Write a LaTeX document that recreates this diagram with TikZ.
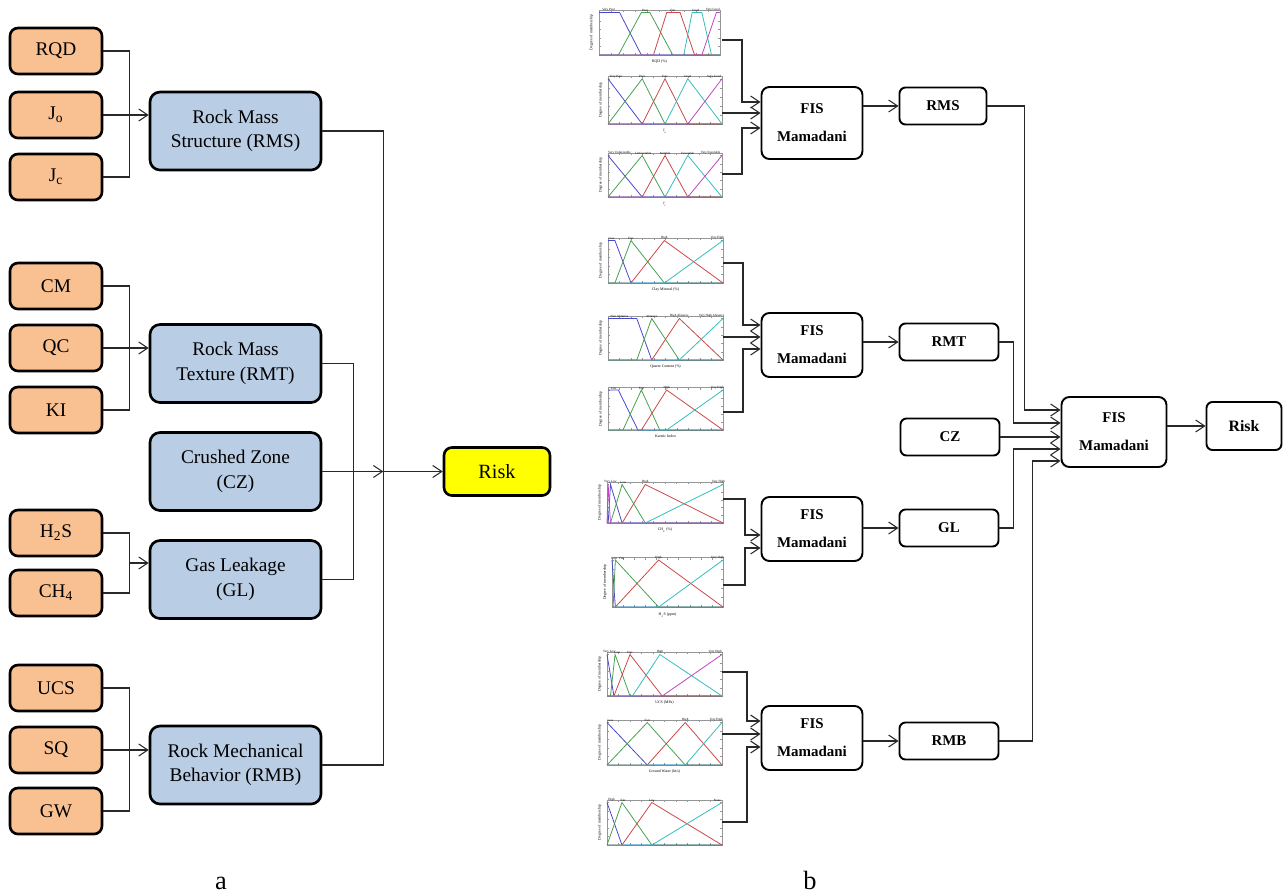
\documentclass[tikz,border=0pt]{standalone}
\usepackage{fontspec}
\setmainfont{Liberation Serif}
\usetikzlibrary{arrows.meta,calc,positioning}
\definecolor{RiskOrange}{RGB}{249,192,146}
\definecolor{RiskBlue}{RGB}{185,205,229}
\definecolor{RiskYellow}{RGB}{255,255,0}
\definecolor{MfBlue}{RGB}{72,72,205}
\definecolor{MfGreen}{RGB}{70,160,80}
\definecolor{MfRed}{RGB}{205,70,70}
\definecolor{MfCyan}{RGB}{50,190,190}
\definecolor{MfMagenta}{RGB}{190,70,190}
\definecolor{AxisGray}{RGB}{150,150,150}
\definecolor{WireGray}{RGB}{40,40,40}

\begin{document}
\begin{tikzpicture}[x=0.2mm,y=-0.2mm,>={Straight Barb[length=1.8mm,width=2.4mm]}]
  \tikzset{parambox/.style={draw,line width=1.5pt,rounded corners=1.6mm,fill=RiskOrange,minimum width=18.4mm,minimum height=9.2mm,font=\fontsize{11}{13}\selectfont},
    groupbox/.style={draw,line width=1.5pt,rounded corners=2mm,fill=RiskBlue,minimum width=34.2mm,minimum height=15.6mm,align=center,font=\fontsize{11}{14}\selectfont},
    fisbox/.style={draw,line width=1.1pt,rounded corners=1.6mm,fill=white,minimum width=20.2mm,minimum height=12.8mm,align=center,font=\fontsize{8.5}{16}\selectfont\bfseries},
    outbox/.style={draw,line width=1.1pt,rounded corners=1.2mm,minimum width=19.8mm,minimum height=7.4mm,font=\fontsize{8.5}{10}\selectfont\bfseries},
    wire/.style={WireGray,line width=0.6pt},
    tinytext/.style={font=\fontsize{2.2}{2.6}\selectfont,inner sep=0.3pt},
    termtext/.style={font=\fontsize{1.8}{2}\selectfont,inner sep=0.3pt,anchor=south},
    axisline/.style={AxisGray,line width=0.2pt},
    mfb/.style={MfBlue,line width=0.45pt},
    mfg/.style={MfGreen,line width=0.45pt},
    mfr/.style={MfRed,line width=0.45pt},
    mfc/.style={MfCyan,line width=0.45pt},
    mfm/.style={MfMagenta,line width=0.45pt},
    pics/mfaxes/.style={code={
        \draw[axisline] (0,0) rectangle (1,1.06);
        \foreach \k in {0,...,10}{\draw[axisline] (\k/10,0) -- (\k/10,0.05) (\k/10,1.06) -- (\k/10,1.01);}
        \foreach \k in {0,...,5}{\draw[axisline] (0,\k/5) -- (0.02,\k/5) (1,\k/5) -- (0.98,\k/5);}
        \node[tinytext,rotate=90,anchor=south] at (-0.04,0.53) {Degree of membership};
        \node[tinytext,anchor=north] at (0.5,-0.1) {#1};
      }}}
  \useasboundingbox (0,0) rectangle (1284,894);

  % part a
  \node[parambox] (rqd) at (56,51) {RQD};
  \node[parambox] (jo) at (56,115) {J\textsubscript{o}};
  \node[parambox] (jc) at (56,177) {J\textsubscript{c}};
  \node[parambox] (cm) at (56,286) {CM};
  \node[parambox] (qc) at (56,348) {QC};
  \node[parambox] (ki) at (56,410) {KI};
  \node[parambox] (hs) at (56,533) {H\textsubscript{2}S};
  \node[parambox] (ch) at (56,593) {CH\textsubscript{4}};
  \node[parambox] (ucs) at (56,688) {UCS};
  \node[parambox] (sq) at (56,750) {SQ};
  \node[parambox] (gw) at (56,811) {GW};

  \node[groupbox] (rms) at (235.5,131) {Rock Mass\\Structure (RMS)};
  \node[groupbox] (rmt) at (235.5,363.5) {Rock Mass\\Texture (RMT)};
  \node[groupbox] (cz) at (235.5,471.5) {Crushed Zone\\(CZ)};
  \node[groupbox] (gl) at (235.5,579.5) {Gas Leakage\\(GL)};
  \node[groupbox] (rmb) at (235.5,765) {Rock Mechanical\\Behavior (RMB)};
  \node[draw,line width=1.5pt,rounded corners=1.6mm,fill=RiskYellow,minimum width=21.2mm,minimum height=9.6mm,font=\fontsize{11.5}{13}\selectfont] (risk) at (497,471.5) {Risk};

  \draw[wire] (rqd.east) -- ++(26,0) |- (jc.east);
  \draw[wire,->] (jo.east) -- (jo.east -| rms.west);
  \draw[wire] (cm.east) -- ++(26,0) |- (ki.east);
  \draw[wire,->] (qc.east) -- (qc.east -| rmt.west);
  \draw[wire] (hs.east) -- ++(26,0) |- (ch.east);
  \coordinate (gljoin) at ($(hs.east)!0.5!(ch.east)+(26,0)$);
  \draw[wire,->] (gljoin) -- (gljoin -| gl.west);
  \draw[wire] (ucs.east) -- ++(26,0) |- (gw.east);
  \draw[wire,->] (sq.east) -- (sq.east -| rmb.west);

  \draw[wire] (rms.east) -- ++(61,0) |- (rmb.east);
  \draw[wire] (rmt.east) -- ++(31,0) |- (gl.east);
  \draw[wire,->] (cz.east) -- ++(61,0) coordinate (czjoin);
  \draw[wire,->] (czjoin) -- (czjoin -| risk.west);

  \node[font=\fontsize{15}{17}\selectfont] (laba) at (221,883) {a};

  % part b: membership functions
  \begin{scope}[shift={(119.8mm,-11mm)},x=24.2mm,y=8.5mm]
    \pic {mfaxes={RQD (\%)}};
    \draw[mfb] (0,1) -- (0.17,1) -- (0.35,0) -- (1,0);
    \draw[mfg] (0,0) -- (0.16,0) -- (0.35,1) -- (0.42,1) -- (0.61,0) -- (1,0);
    \draw[mfr] (0,0) -- (0.45,0) -- (0.56,1) -- (0.67,1) -- (0.79,0) -- (1,0);
    \draw[mfc] (0,0) -- (0.7,0) -- (0.77,1) -- (0.85,1) -- (0.93,0) -- (1,0);
    \draw[mfm] (0,0) -- (0.85,0) -- (0.97,1) -- (1,1);
    \foreach \p/\t in {0.08/Very Poor,0.38/Poor,0.61/Fair,0.8/Good,0.94/Very Good}{\node[termtext] at (\p,1) {\t};}
  \end{scope}
  \begin{scope}[shift={(121.6mm,-24.8mm)},x=22.8mm,y=9.05mm]
    \pic {mfaxes={J\textsubscript{o}}};
    \draw[mfb] (0,1) -- (0.3,0) -- (1,0);
    \draw[mfg] (0,0) -- (0.3,1) -- (0.5,0) -- (1,0);
    \draw[mfr] (0,0) -- (0.3,0) -- (0.5,1) -- (0.7,0) -- (1,0);
    \draw[mfc] (0,0) -- (0.5,0) -- (0.7,1) -- (1,0);
    \draw[mfm] (0,0) -- (0.7,0) -- (1,1);
    \foreach \p/\t in {0.07/Very Poor,0.3/Poor,0.5/Fair,0.7/Good,0.93/Very Good}{\node[termtext] at (\p,1) {\t};}
  \end{scope}
  \begin{scope}[shift={(121.6mm,-39.4mm)},x=22.8mm,y=8.3mm]
    \pic {mfaxes={J\textsubscript{c}}};
    \draw[mfb] (0,1) -- (0.3,0) -- (1,0);
    \draw[mfg] (0,0) -- (0.3,1) -- (0.5,0) -- (1,0);
    \draw[mfr] (0,0) -- (0.3,0) -- (0.5,1) -- (0.7,0) -- (1,0);
    \draw[mfc] (0,0) -- (0.5,0) -- (0.7,1) -- (1,0);
    \draw[mfm] (0,0) -- (0.7,0) -- (1,1);
    \foreach \p/\t in {0.1/Very Unfavorable,0.31/Unfavorable,0.5/Suitable,0.7/Favorable,0.9/Very Favorable}{\node[termtext] at (\p,1) {\t};}
  \end{scope}
  \begin{scope}[shift={(121.6mm,-56.6mm)},x=23mm,y=8.5mm]
    \pic {mfaxes={Clay Mineral (\%)}};
    \draw[mfb] (0,1) -- (0.06,1) -- (0.2,0) -- (1,0);
    \draw[mfg] (0,0) -- (0.06,0) -- (0.2,1) -- (0.49,0) -- (1,0);
    \draw[mfr] (0,0) -- (0.2,0) -- (0.49,1) -- (1,0);
    \draw[mfc] (0,0) -- (0.49,0) -- (1,1);
    \foreach \p/\t in {0.03/Low,0.2/Fair,0.49/High,0.95/Very High}{\node[termtext] at (\p,1) {\t};}
  \end{scope}
  \begin{scope}[shift={(121.6mm,-72mm)},x=23mm,y=8.3mm]
    \pic {mfaxes={Quartz Content (\%)}};
    \draw[mfb] (0,1) -- (0.25,1) -- (0.38,0) -- (1,0);
    \draw[mfg] (0,0) -- (0.25,0) -- (0.38,1) -- (0.62,0) -- (1,0);
    \draw[mfr] (0,0) -- (0.38,0) -- (0.62,1) -- (1,0);
    \draw[mfc] (0,0) -- (0.62,0) -- (1,1);
    \foreach \p/\t in {0.1/Non Abrasive,0.38/Abrasive,0.62/High Abrasive,0.9/Very High Abrasive}{\node[termtext] at (\p,1) {\t};}
  \end{scope}
  \begin{scope}[shift={(121.6mm,-86mm)},x=23mm,y=8mm]
    \pic {mfaxes={Karstic Index}};
    \draw[mfb] (0,1) -- (0.09,1) -- (0.26,0) -- (1,0);
    \draw[mfg] (0,0) -- (0.13,0) -- (0.29,1) -- (0.45,0) -- (1,0);
    \draw[mfr] (0,0) -- (0.29,0) -- (0.51,1) -- (1,0);
    \draw[mfc] (0,0) -- (0.51,0) -- (1,1);
    \foreach \p/\t in {0.05/Low,0.29/Fair,0.51/High,0.95/Very High}{\node[termtext] at (\p,1) {\t};}
  \end{scope}
  \begin{scope}[shift={(121.4mm,-104.6mm)},x=23.2mm,y=7.7mm]
    \pic {mfaxes={CH\textsubscript{4} (\%)}};
    \draw[mfb] (0,0) -- (0.01,0) -- (0.03,1) -- (0.13,0) -- (1,0);
    \draw[mfg] (0,0) -- (0.03,0) -- (0.13,1) -- (0.33,0) -- (1,0);
    \draw[mfr] (0,0) -- (0.13,0) -- (0.33,1) -- (1,0);
    \draw[mfc] (0,0) -- (0.33,0) -- (1,1);
    \draw[mfm] (0,0) -- (0.01,1) -- (0.03,0) -- (1,0);
    \foreach \p/\t in {0.03/Very Low,0.14/Low,0.33/High,0.96/Very High}{\node[termtext] at (\p,1) {\t};}
  \end{scope}
  \begin{scope}[shift={(122.4mm,-121.4mm)},x=22.2mm,y=9.4mm]
    \pic {mfaxes={H\textsubscript{2}S (ppm)}};
    \draw[mfb] (0,1) -- (0.03,0) -- (1,0);
    \draw[mfg] (0,0) -- (0.01,0) -- (0.03,1) -- (0.42,0) -- (1,0);
    \draw[mfr] (0,0) -- (0.03,0) -- (0.42,1) -- (1,0);
    \draw[mfc] (0,0) -- (0.42,0) -- (1,1);
    \foreach \p/\t in {0.02/Low,0.09/Fair,0.42/High,0.95/Very High}{\node[termtext] at (\p,1) {\t};}
  \end{scope}
  \begin{scope}[shift={(121.4mm,-139.2mm)},x=23mm,y=8.3mm]
    \pic {mfaxes={UCS (MPa)}};
    \draw[mfb] (0,1) -- (0.06,0) -- (1,0);
    \draw[mfg] (0,0) -- (0.03,0) -- (0.07,1) -- (0.2,0) -- (1,0);
    \draw[mfr] (0,0) -- (0.06,0) -- (0.2,1) -- (0.48,0) -- (1,0);
    \draw[mfc] (0,0) -- (0.22,0) -- (0.46,1) -- (1,0);
    \draw[mfm] (0,0) -- (0.48,0) -- (1,1);
    \foreach \p/\t in {0.02/Very Low,0.09/Low,0.2/Fair,0.46/High,0.94/Very High}{\node[termtext] at (\p,1) {\t};}
  \end{scope}
  \begin{scope}[shift={(121.4mm,-153mm)},x=23mm,y=8.5mm]
    \pic {mfaxes={Ground Water (lit/s)}};
    \draw[mfb] (0,1) -- (0.35,0) -- (1,0);
    \draw[mfg] (0,0) -- (0.35,1) -- (0.68,0) -- (1,0);
    \draw[mfr] (0,0) -- (0.35,0) -- (0.68,1) -- (1,0);
    \draw[mfc] (0,0) -- (0.68,0) -- (1,1);
    \foreach \p/\t in {0.03/Low,0.35/Fair,0.68/High,0.95/Very High}{\node[termtext] at (\p,1) {\t};}
  \end{scope}
  \begin{scope}[shift={(121.4mm,-169mm)},x=23mm,y=8.5mm]
    \pic {mfaxes={}};
    \draw[mfb] (0,1) -- (0.13,0) -- (1,0);
    \draw[mfg] (0,0) -- (0.13,1) -- (0.39,0) -- (1,0);
    \draw[mfr] (0,0) -- (0.13,0) -- (0.39,1) -- (1,0);
    \draw[mfc] (0,0) -- (0.39,0) -- (1,1);
    \foreach \p/\t in {0.04/High,0.14/Fair,0.39/Low,0.96/None}{\node[termtext] at (\p,1) {\t};}
  \end{scope}
  \coordinate (p1) at (722,40);
  \coordinate (p2) at (722,113);
  \coordinate (p3) at (722,174);
  \coordinate (p4) at (723,263);
  \coordinate (p5) at (723,337);
  \coordinate (p6) at (723,412);
  \coordinate (p7) at (723,499);
  \coordinate (p8) at (723,585);
  \coordinate (p9) at (722,672);
  \coordinate (p10) at (722,734);
  \coordinate (p11) at (722,822);

  % part b: inference systems
  \node[fisbox,minimum height=14.4mm] (fis1) at (812,123) {FIS\\Mamadani};
  \node[fisbox] (fis2) at (812,345) {FIS\\Mamadani};
  \node[fisbox] (fis3) at (812,529) {FIS\\Mamadani};
  \node[fisbox] (fis4) at (812,738) {FIS\\Mamadani};
  \node[outbox,minimum width=17.4mm] (rmso) at (943,106) {RMS};
  \node[outbox] (rmto) at (949,342) {RMT};
  \node[outbox] (czo) at (950,437) {CZ};
  \node[outbox] (glo) at (949,528) {GL};
  \node[outbox] (rmbo) at (949,741) {RMB};
  \node[fisbox,minimum width=21mm,minimum height=14mm] (fisr) at (1114,432) {FIS\\Mamadani};
  \node[outbox,minimum width=15mm,minimum height=9.6mm,font=\fontsize{9}{10}\selectfont\bfseries] (riskr) at (1244,426) {Risk};

  \draw[wire,->] (p1) -- ++(20,0) |- ([yshift=4.2mm]fis1.west);
  \draw[wire,->] (p2) -- (p2 -| fis1.west);
  \draw[wire,->] (p3) -- ++(20,0) |- ([yshift=-1mm]fis1.west);
  \draw[wire,->] (p4) -- ++(20,0) |- ([yshift=4mm]fis2.west);
  \draw[wire,->] (p5) -- (p5 -| fis2.west);
  \draw[wire,->] (p6) -- ++(20,0) |- ([yshift=-0.8mm]fis2.west);
  \draw[wire,->] (p7) -- ++(22,0) |- ([yshift=-1.2mm]fis3.west);
  \draw[wire,->] (p8) -- ++(22,0) |- ([yshift=-3.8mm]fis3.west);
  \draw[wire,->] (p9) -- ++(25,0) |- ([yshift=3.4mm]fis4.west);
  \draw[wire,->] (p10) -- (p10 -| fis4.west);
  \draw[wire,->] (p11) -- ++(25,0) |- ([yshift=-1.8mm]fis4.west);

  \draw[wire,->] (fis1.east |- rmso.west) -- (rmso.west);
  \draw[wire,->] (fis2.east |- rmto.west) -- (rmto.west);
  \draw[wire,->] (fis3.east |- glo.west) -- (glo.west);
  \draw[wire,->] (fis4.east |- rmbo.west) -- (rmbo.west);

  \draw[wire,->] (rmso.east) -- ++(37,0) |- ([yshift=4.4mm]fisr.west);
  \draw[wire,->] (rmto.east) -- ++(14,0) |- ([yshift=1.8mm]fisr.west);
  \draw[wire,->] (czo.east) -- (czo.east -| fisr.west);
  \draw[wire,->] (glo.east) -- ++(14,0) |- ([yshift=-3.4mm]fisr.west);
  \draw[wire,->] (rmbo.east) -- ++(33,0) |- ([yshift=-5.8mm]fisr.west);
  \draw[wire,->] (fisr.east |- riskr.west) -- (riskr.west);

  \node[font=\fontsize{15}{17}\selectfont] (labb) at (810,880) {b};
\end{tikzpicture}
\end{document}
